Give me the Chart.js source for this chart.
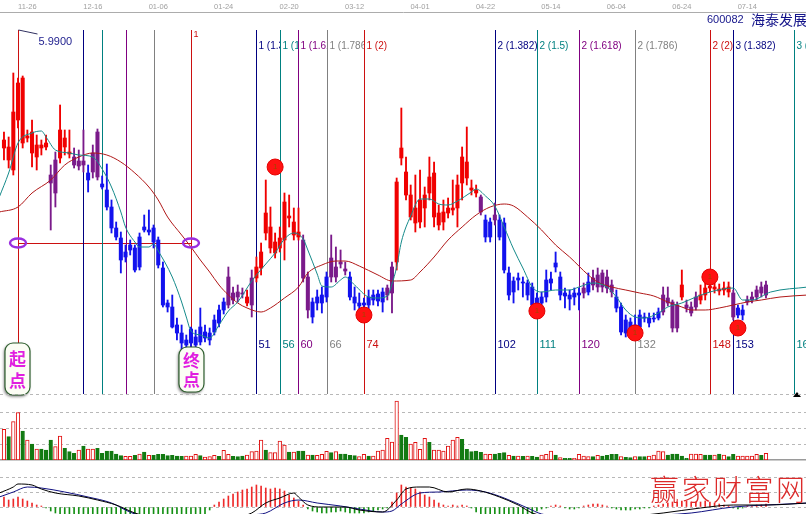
<!DOCTYPE html>
<html>
<head>
<meta charset="utf-8">
<script src="https://cdn.jsdelivr.net/npm/chart.js@4.4.1/dist/chart.umd.min.js"></script>
<style>
  html, body { margin: 0; padding: 0; background: #ffffff; }
  #wrap { position: relative; width: 806px; height: 514px; overflow: hidden; background: #ffffff; }
  #wrap canvas { position: absolute; left: 0; }
</style>
</head>
<body>
<div id="wrap">
  <canvas id="price" width="806" height="400" style="top:0px"></canvas>
  <canvas id="vol" width="806" height="69" style="top:393px"></canvas>
  <canvas id="macd" width="806" height="44" style="top:470px"></canvas>
</div>
<script>
// ---- daily bars, index 0 = cycle start bar ----
const firstBar = -3;
const opens = [
  5.24,5.12,5.02,5.52,5.29,5.34,5.19,5.15,5.24,5.25,
  4.97,4.79,5.14,5.25,5.18,5.15,5.11,5.11,4.99,5.00,
  4.95,4.88,4.82,4.65,4.44,4.34,4.20,4.27,4.24,4.35,
  4.45,4.42,4.44,4.32,4.04,3.69,3.65,3.47,3.39,3.32,
  3.43,3.35,3.45,3.40,3.39,3.52,3.62,3.70,3.67,3.79,
  3.80,3.79,3.69,3.67,3.94,4.04,4.39,4.24,4.19,4.24,
  4.32,4.54,4.37,4.35,4.32,3.95,3.70,3.75,3.77,3.95,
  3.95,4.05,4.10,4.03,3.95,3.75,3.69,3.69,3.75,3.77,
  3.78,3.80,3.84,3.79,4.10,5.14,4.77,4.55,4.49,4.50,
  4.64,4.79,4.55,4.47,4.50,4.59,4.62,4.64,4.89,4.94,
  4.82,4.79,4.75,4.52,4.50,4.57,4.52,4.49,3.99,3.91,
  3.94,3.90,3.89,3.85,3.74,3.75,3.92,3.93,4.09,3.95,
  3.79,3.77,3.79,3.79,3.84,3.90,3.94,3.97,3.99,3.95,
  3.87,3.75,3.65,3.52,3.50,3.47,3.57,3.55,3.54,3.54,
  3.60,3.60,3.74,3.70,3.67,3.75,3.67,3.65,3.65,3.72,
  3.77,3.84,3.83,3.81,3.82,3.80,3.79,3.64,3.62,3.72,
  3.72,3.75,3.79,3.77
];
const highs = [
  5.40,5.35,5.99,5.94,5.96,5.42,5.52,5.37,5.32,5.37,
  5.07,5.20,5.67,5.42,5.42,5.24,5.22,5.42,5.07,5.27,
  5.43,4.96,5.08,4.72,4.50,4.40,4.27,4.32,4.27,4.39,
  4.57,4.62,4.47,4.35,4.10,3.72,3.77,3.54,3.47,3.37,
  3.45,3.42,3.64,3.47,3.44,3.57,3.67,3.74,4.05,3.85,
  3.87,3.84,3.82,4.02,4.15,4.29,4.92,4.65,4.39,4.45,
  4.79,4.77,4.64,4.64,4.37,4.00,3.74,3.82,3.85,4.00,
  4.37,4.25,4.22,4.10,4.00,3.85,3.79,3.74,3.82,3.82,
  3.82,3.84,3.87,4.10,4.94,5.64,5.15,4.87,4.97,5.02,
  4.85,5.15,5.10,4.67,4.72,4.74,4.92,4.97,5.25,5.45,
  4.92,4.87,4.77,4.57,4.54,4.69,4.57,4.54,4.05,3.95,
  3.99,3.95,3.92,3.89,3.79,3.80,4.02,4.00,4.20,4.00,
  3.84,3.82,3.84,3.84,3.89,3.99,4.02,4.04,4.02,4.02,
  3.92,3.82,3.69,3.57,3.54,3.57,3.62,3.59,3.59,3.59,
  3.64,3.85,3.85,3.72,3.70,4.02,3.72,3.70,3.80,3.87,
  3.94,3.92,3.89,3.88,3.90,3.90,3.82,3.67,3.67,3.76,
  3.80,3.86,3.90,3.91
];
const lows = [
  5.12,5.04,4.97,5.44,5.24,5.30,5.05,5.02,5.17,5.22,
  4.42,4.65,5.09,5.17,5.14,5.04,5.02,5.00,4.80,4.94,
  4.92,4.83,4.62,4.39,4.32,3.99,4.10,4.17,4.00,4.02,
  4.40,4.37,4.24,4.04,3.65,3.60,3.44,3.32,3.22,3.24,
  3.25,3.22,3.27,3.30,3.27,3.37,3.45,3.58,3.64,3.68,
  3.70,3.74,3.66,3.55,3.90,3.97,4.32,4.19,4.14,4.20,
  4.12,4.45,4.32,4.32,3.90,3.54,3.49,3.62,3.59,3.70,
  3.90,3.90,4.04,3.97,3.72,3.62,3.62,3.60,3.62,3.67,
  3.66,3.60,3.72,3.59,4.02,5.07,4.72,4.52,4.40,4.44,
  4.45,4.72,4.45,4.42,4.42,4.54,4.57,4.45,4.72,4.87,
  4.77,4.75,4.57,4.30,4.30,4.47,4.32,3.99,3.72,3.69,
  3.82,3.75,3.72,3.62,3.60,3.62,3.70,3.82,4.00,3.72,
  3.64,3.62,3.67,3.62,3.74,3.77,3.82,3.80,3.80,3.79,
  3.75,3.60,3.37,3.35,3.34,3.35,3.42,3.50,3.45,3.50,
  3.52,3.57,3.66,3.40,3.40,3.72,3.60,3.56,3.62,3.68,
  3.72,3.80,3.79,3.77,3.77,3.75,3.52,3.54,3.52,3.67,
  3.69,3.72,3.75,3.74
];
const closes = [
  5.32,5.25,5.60,5.89,5.94,5.36,5.40,5.27,5.27,5.29,
  4.89,5.12,5.42,5.34,5.20,5.07,5.06,5.07,4.92,5.19,
  5.40,4.85,4.65,4.44,4.35,4.12,4.15,4.22,4.02,4.05,
  4.42,4.40,4.30,4.07,3.67,3.65,3.45,3.39,3.29,3.27,
  3.29,3.27,3.30,3.34,3.32,3.40,3.49,3.62,3.95,3.72,
  3.75,3.78,3.75,3.94,4.05,4.20,4.59,4.45,4.30,4.34,
  4.70,4.56,4.50,4.40,3.94,3.62,3.55,3.69,3.69,3.75,
  4.14,3.95,4.08,4.01,3.75,3.69,3.66,3.67,3.67,3.72,
  3.71,3.70,3.77,4.05,4.90,5.24,5.00,4.77,4.64,4.72,
  4.77,4.95,4.99,4.59,4.60,4.64,4.64,4.87,5.15,5.10,
  4.84,4.82,4.60,4.35,4.35,4.52,4.35,4.02,3.77,3.80,
  3.92,3.89,3.77,3.67,3.65,3.69,3.75,3.89,4.05,3.77,
  3.76,3.73,3.75,3.77,3.79,3.80,3.87,3.85,3.85,3.84,
  3.80,3.64,3.40,3.39,3.37,3.39,3.45,3.54,3.49,3.53,
  3.54,3.77,3.69,3.44,3.44,3.87,3.64,3.59,3.75,3.77,
  3.84,3.86,3.85,3.83,3.84,3.85,3.55,3.57,3.57,3.70,
  3.75,3.82,3.85,3.87
];
// trend state per bar: r = rising, b = falling, p = transition
const trend =
  'rrrrrrrrrr' + 'pprrrpppbppb' + 'bbbbbbbbbbbbbbbbbbbbbbbbbb' + 'pppprp' +
  'rrrrrrrrrr' + 'pp' + 'bbbb' + 'pppp' + 'bbbbbbbb' + 'pp' +
  'rrrrrrrrrrrrrrrrrr' + 'p' + 'bb' + 'p' + 'bbbbbbbbbbbbbbbbbb' + 'p' + 'b' +
  'ppppp' + 'bbbbbbbbbb' + 'pppp' + 'r' + 'ppp' + 'rrrrrrr' + 'p' + 'bb' + 'ppppp';

// volume (10k shares) and up/down day flag
const volumes = [
  307,233,383,473,290,200,160,110,110,100,
  200,133,240,117,83,67,100,140,110,110,
  117,67,90,90,60,43,37,37,47,60,
  80,47,47,57,57,43,47,40,37,40,
  40,57,43,30,33,47,37,97,57,37,
  33,40,50,83,90,200,100,73,73,190,
  150,80,80,90,90,50,50,47,57,87,
  73,83,60,60,47,43,33,57,40,40,
  90,100,217,180,590,250,227,160,177,107,
  217,177,100,100,90,140,200,227,207,107,
  83,90,77,60,57,60,67,73,47,40,
  40,37,40,37,30,50,57,90,50,23,
  17,17,17,57,40,33,33,47,40,47,
  57,57,33,27,23,33,33,33,40,50,
  90,83,50,60,60,40,17,60,60,57,
  50,50,50,60,50,33,57,40,40,40,
  40,57,47,67
];
const volumeDir =
  'uduudududd' + 'duudddudu' + 'u' + 'ddddddu' + 'udu' + 'dudddddddu' +
  'uuduuuduud' + 'dduuuuduuu' + 'udud' + 'duduuu' + 'duddddu' + 'udu' +
  'uuuuudduuu' + 'uduuuuuudd' + 'dddu' + 'uddd' + 'ud' + 'udud' + 'duuudu' +
  'dduuuudud' + 'd' + 'ddudduddu' + 'u' + 'uudddddu' + 'uu' + 'ddududduuu' + 'uudu';

// MACD histogram, DIF and DEA
const macdHist = [
  0.10,0.07,0.08,0.10,0.08,0.06,0.04,0.02,0.01,-0.01,
  -0.04,-0.06,-0.07,-0.09,-0.10,-0.11,-0.12,-0.12,-0.13,-0.13,
  -0.14,-0.14,-0.15,-0.16,-0.17,-0.18,-0.18,-0.19,-0.19,-0.18,
  -0.17,-0.16,-0.16,-0.15,-0.16,-0.17,-0.17,-0.16,-0.15,-0.14,
  -0.13,-0.12,-0.10,-0.07,-0.03,
  0.02,0.05,0.08,0.11,0.13,0.15,0.17,0.18,0.20,0.22,
  0.21,0.19,0.18,0.19,0.18,0.16,0.12,0.09,0.06,0.02,
  -0.02,-0.04,-0.05,-0.06,-0.06,-0.05,-0.05,-0.04,-0.05,-0.06,
  -0.06,-0.06,-0.06,-0.05,-0.04,-0.03,-0.02,-0.01,
  0.05,0.14,0.22,0.20,0.19,0.18,0.15,0.12,0.10,0.07,
  0.04,0.02,0.01,0.02,0.01,0.02,0.01,-0.01,
  -0.05,-0.08,-0.10,-0.11,-0.12,-0.12,-0.13,-0.13,-0.12,-0.12,
  -0.11,-0.10,-0.07,-0.04,
  -0.02,-0.01,0.01,0.02,0.01,-0.01,-0.02,-0.02,-0.01,0.01,
  0.02,0.03,0.03,0.02,0.01,-0.01,-0.02,-0.03,-0.03,-0.03,
  -0.02,-0.02,-0.01,-0.01,
  0.01,0.02,0.03,0.04,0.05,0.05,0.06,0.06,0.05,0.05,
  0.05,0.06,0.05,0.04,0.03,0.02,0.01,-0.01,-0.02,-0.01,
  0.01,0.01,0.02,0.02,0.03
];
const difBars = [-4,-1,0,3,5,8,13,17,21,25,30,36,42,47,50,53,56,59,60,62,65,70,73,78,81,83,86,88,92,96,99,103,107,110,115,122,130,138,146,153,160,169];
const difVals = [0.14,0.20,0.23,0.22,0.18,0.14,0.11,0.07,0.02,-0.06,-0.12,-0.15,-0.14,-0.10,-0.06,0.04,0.09,0.14,0.10,0.02,0.00,0.00,-0.03,-0.05,0.07,0.18,0.20,0.20,0.15,0.18,0.16,0.10,0.02,-0.06,-0.11,-0.13,-0.10,-0.06,-0.01,0.02,0.02,0.04];
const deaBars = [-4,-1,2,5,10,15,20,23,25,30,38,45,50,53,57,60,64,69,73,78,80,82,86,90,96,100,104,109,112,120,130,138,144,153,160,169];
const deaVals = [0.10,0.15,0.20,0.19,0.15,0.10,0.04,-0.03,-0.07,-0.11,-0.14,-0.12,-0.08,-0.06,0.04,0.07,0.04,0.01,-0.02,-0.05,-0.04,0.03,0.14,0.15,0.17,0.15,0.09,-0.01,-0.07,-0.11,-0.10,-0.08,-0.06,0.00,0.02,0.04];

// moving averages
const maShortBars = [-4,-2,0,3,5,6,8,11,13,16,18,20,22,23,25,26,28,29,30,33,35,36,37,39,41,43,45,47,50,53,55,57,59,61,62,64,65,67,69,70,72,75,77,79,80,81,82,84,86,88,90,92,94,97,98,100,102,104,106,108,110,112,115,118,120,123,126,128,130,132,134,137,139,142,145,148,153,155,157,161,169];
const maShortVals = [4.75,4.99,5.29,5.39,5.41,5.35,5.22,5.19,5.17,5.15,5.03,4.85,4.60,4.45,4.30,4.25,4.25,4.28,4.21,3.95,3.70,3.55,3.41,3.37,3.34,3.47,3.61,3.70,3.91,4.08,4.19,4.33,4.39,4.33,4.22,3.98,3.86,3.85,3.92,3.95,3.87,3.75,3.74,3.76,3.88,4.05,4.30,4.56,4.73,4.73,4.68,4.67,4.71,4.80,4.83,4.76,4.66,4.45,4.23,4.04,3.85,3.80,3.82,3.82,3.85,3.89,3.85,3.75,3.62,3.55,3.54,3.59,3.65,3.69,3.75,3.80,3.84,3.72,3.72,3.80,3.85];
const maLongBars = [-4,0,3,7,10,13,16,19,22,25,28,30,32,35,37,39,41,43,45,47,49,52,54,57,60,62,65,68,70,73,77,80,84,86,89,92,95,98,101,104,106,109,112,115,118,122,124,127,130,133,136,139,142,144,147,150,153,156,159,163,169];
const maLongVals = [4.60,4.65,4.79,4.92,5.07,5.15,5.19,5.17,5.10,4.99,4.85,4.72,4.55,4.37,4.25,4.12,4.00,3.87,3.77,3.69,3.64,3.60,3.64,3.74,3.85,3.99,4.07,4.11,4.11,4.06,3.97,3.91,3.92,4.00,4.15,4.32,4.45,4.57,4.65,4.68,4.66,4.55,4.42,4.27,4.15,3.97,3.90,3.85,3.82,3.79,3.76,3.70,3.65,3.62,3.62,3.64,3.67,3.70,3.72,3.75,3.77];

// date axis
const dateBars = [2,16,30,44,58,72,86,100,114,128,142,156];
const dateLabels = ['11-26','12-16','01-06','01-24','02-20','03-12','04-01','04-22','05-14','06-04','06-24','07-14'];

// golden-ratio time cycle
const startBar = 0;
const endBar = 37;
const startLevel = 4.29;
const fibBars = [14,18,23,29,37,51,56,60,66,74,102,111,120,132,148,153,166];
const fibTopLabels = ['','','','','1','1 (1.382)','1 (1.5)','1 (1.618)','1 (1.786)','1 (2)','2 (1.382)','2 (1.5)','2 (1.618)','2 (1.786)','2 (2)','3 (1.382)','3 (1.5)'];
const signalBars = [55,74,111,132,148,154];
const signalPrices = [5.05,3.57,3.61,3.39,3.95,3.44];

const stockCode = '600082';
const stockName = '海泰发展';

// ---- drawing ----
const X_MIN = -3.85, X_MAX = 168.56;
const RED = '#cc1010';
const fibColors = ['#000080', '#008080', '#800080', '#808080', RED];
const candleColor = { r: '#f00000', b: '#1212ee', p: '#7a1a8a' };
const barIdx = opens.map((_, k) => firstBar + k);
const pairs = (xs, ys) => xs.map((x, k) => ({ x, y: ys[k] }));

const LINE_TOP = 30, LINE_BOTTOM = 394;
const START_BOX = { top: 343, bottom: 395 };
const END_BOX = { top: 347, bottom: 392 };

function badge(ctx, cx, top, bottom, chars) {
  const w = 25, l = cx - w / 2;
  ctx.save();
  ctx.shadowColor = 'rgba(0,0,0,0.55)';
  ctx.shadowBlur = 3; ctx.shadowOffsetX = -1; ctx.shadowOffsetY = 1.5;
  ctx.beginPath();
  ctx.roundRect(l, top, w, bottom - top, 8);
  ctx.fillStyle = '#fbfdf4';
  ctx.fill();
  ctx.shadowColor = 'transparent';
  ctx.lineWidth = 1.2;
  ctx.strokeStyle = '#2f5f2f';
  ctx.stroke();
  ctx.fillStyle = '#e01ee0';
  ctx.font = 'bold 17px "Noto Sans CJK SC"';
  ctx.textAlign = 'center';
  ctx.textBaseline = 'middle';
  ctx.fillText(chars[0], cx, top + (bottom - top) * 0.29);
  ctx.fillText(chars[1], cx, top + (bottom - top) * 0.73);
  ctx.restore();
}

const cycleDecor = {
  id: 'cycleDecor',
  beforeDatasetsDraw(chart) {
    const { ctx, scales: { x, y } } = chart;
    const px = v => Math.round(x.getPixelForValue(v)) + 0.5;
    ctx.save();
    ctx.lineWidth = 1;
    const vline = (xx, y0, y1, col) => {
      ctx.strokeStyle = col;
      ctx.beginPath(); ctx.moveTo(xx, y0); ctx.lineTo(xx, y1); ctx.stroke();
    };
    const yl = Math.round(y.getPixelForValue(startLevel)) + 0.5;
    ctx.strokeStyle = RED;
    ctx.beginPath(); ctx.moveTo(px(startBar), yl); ctx.lineTo(px(endBar), yl); ctx.stroke();
    vline(px(startBar), LINE_TOP, START_BOX.top, RED);
    fibBars.forEach((b, k) => {
      vline(px(b), LINE_TOP, b === endBar ? END_BOX.top : LINE_BOTTOM, fibColors[k % 5]);
    });
    ctx.restore();
  },
  afterDatasetsDraw(chart) {
    const { ctx, scales: { x, y } } = chart;
    const px = v => Math.round(x.getPixelForValue(v)) + 0.5;
    ctx.save();
    // level markers
    const yl = y.getPixelForValue(startLevel);
    ctx.strokeStyle = '#9a2ee0';
    ctx.lineWidth = 2.4;
    [startBar, endBar].forEach(b => {
      ctx.beginPath();
      ctx.ellipse(x.getPixelForValue(b), yl, 8, 4.5, 0, 0, Math.PI * 2);
      ctx.stroke();
    });
    // cycle labels
    ctx.textBaseline = 'middle';
    ctx.textAlign = 'left';
    fibBars.forEach((b, k) => {
      const x0 = px(b);
      const x1 = k + 1 < fibBars.length ? px(fibBars[k + 1]) - 0.5 : chart.width;
      ctx.fillStyle = fibColors[k % 5];
      ctx.save();
      ctx.beginPath(); ctx.rect(x0 + 0.5, 0, x1 - x0 - 0.5, chart.height); ctx.clip();
      if (fibTopLabels[k]) {
        ctx.font = (k < 5 ? '9px' : '10px') + ' "Liberation Sans"';
        ctx.fillText(fibTopLabels[k], x0 + 2, k < 5 ? 35 : 46);
      }
      if (k >= 5) {
        ctx.font = '11px "Liberation Sans"';
        ctx.fillText(String(b), x0 + 2, 345);
      }
      ctx.restore();
    });
    // signal numbers
    ctx.fillStyle = '#a04800';
    ctx.font = '8px "Liberation Sans"';
    ctx.textAlign = 'center';
    signalBars.forEach((b, k) => {
      ctx.fillText('1', x.getPixelForValue(b), y.getPixelForValue(signalPrices[k]));
    });
    // high price tag at cycle start
    const xs = px(startBar);
    ctx.strokeStyle = '#303060';
    ctx.lineWidth = 1;
    ctx.beginPath(); ctx.moveTo(xs, LINE_TOP); ctx.lineTo(xs + 19, LINE_TOP + 4); ctx.stroke();
    ctx.fillStyle = '#1c1c8c';
    ctx.font = '11px "Liberation Sans"';
    ctx.textAlign = 'left';
    ctx.fillText(Math.max(...highs).toFixed(4), xs + 20, 42);
    // start / end badges
    badge(ctx, x.getPixelForValue(startBar) - 0.5, START_BOX.top, START_BOX.bottom, '起点');
    badge(ctx, x.getPixelForValue(endBar) + 0.5, END_BOX.top, END_BOX.bottom, '终点');
    // security name
    ctx.fillStyle = '#14148a';
    ctx.font = '11px "Liberation Sans"';
    ctx.fillText(stockCode, 707, 20);
    ctx.font = '14px "Noto Sans CJK SC"';
    ctx.fillText(stockName, 751, 20);
    // scroll marker
    ctx.fillStyle = '#000000';
    ctx.beginPath(); ctx.moveTo(797, 392); ctx.lineTo(801, 397); ctx.lineTo(793, 397); ctx.closePath(); ctx.fill();
    ctx.restore();
  }
};

const common = {
  responsive: false,
  animation: false,
  devicePixelRatio: 1,
  events: [],
  plugins: { legend: { display: false }, tooltip: { enabled: false } }
};

new Chart(document.getElementById('price'), {
  type: 'bar',
  data: {
    datasets: [
      {
        type: 'bar', order: 4, grouped: false, barThickness: 1.2,
        data: barIdx.map((b, k) => ({ x: b, y: [lows[k], highs[k]] })),
        backgroundColor: c => candleColor[trend[c.dataIndex]], borderWidth: 0
      },
      {
        type: 'bar', order: 3, grouped: false, barThickness: 3.4, minBarLength: 1,
        data: barIdx.map((b, k) => ({ x: b, y: [opens[k], closes[k]] })),
        backgroundColor: c => candleColor[trend[c.dataIndex]], borderWidth: 0
      },
      {
        type: 'line', order: 2, data: pairs(maLongBars, maLongVals),
        borderColor: '#b01818', borderWidth: 1, pointRadius: 0, cubicInterpolationMode: 'monotone'
      },
      {
        type: 'line', order: 1, data: pairs(maShortBars, maShortVals),
        borderColor: '#158a8a', borderWidth: 1, pointRadius: 0, cubicInterpolationMode: 'monotone'
      },
      {
        type: 'line', order: 0, showLine: false, data: pairs(signalBars, signalPrices),
        pointRadius: 8, pointBackgroundColor: '#ff1212', pointBorderColor: '#e40000', pointBorderWidth: 1
      }
    ]
  },
  options: {
    ...common,
    layout: { autoPadding: false, padding: { left: 0, right: 0, top: 0, bottom: 5 } },
    scales: {
      x: {
        type: 'linear', position: 'top', min: X_MIN, max: X_MAX, offset: false,
        grid: { display: false, drawTicks: false },
        border: { display: true, color: '#acacac', width: 1 },
        ticks: {
          autoSkip: false, maxRotation: 0, minRotation: 0, padding: 1,
          color: '#a0a0a0', font: { family: 'Liberation Sans', size: 7.5 },
          callback: v => { const i = dateBars.indexOf(v); return i >= 0 ? dateLabels[i] : ''; }
        },
        afterBuildTicks: s => { s.ticks = dateBars.map(v => ({ value: v })); },
        afterFit: s => { s.height = 12; s.paddingLeft = 0; s.paddingRight = 0; }
      },
      y: { display: false, min: 2.77, max: 6.60 }
    }
  },
  plugins: [cycleDecor]
});

const volGrid = [160, 320, 480, 660];
new Chart(document.getElementById('vol'), {
  type: 'bar',
  data: {
    datasets: [{
      grouped: false, barThickness: 3.6, borderSkipped: false, borderWidth: 1,
      data: pairs(barIdx, volumes),
      backgroundColor: c => volumeDir[c.dataIndex] === 'u' ? '#ffffff' : '#127a12',
      borderColor: c => volumeDir[c.dataIndex] === 'u' ? '#e01010' : '#127a12'
    }]
  },
  options: {
    ...common,
    layout: { autoPadding: false, padding: { left: 0, right: 0, top: 0, bottom: 2 } },
    scales: {
      x: {
        type: 'linear', min: X_MIN, max: X_MAX, offset: false,
        grid: { display: false }, ticks: { display: false },
        border: { display: true, color: '#9a9a9a', width: 1.5 },
        afterFit: s => { s.height = 0; s.paddingLeft = 0; s.paddingRight = 0; }
      },
      y: {
        min: 0, max: 670, ticks: { display: false },
        grid: { color: '#b8b8b8', drawTicks: false },
        border: { display: false, dash: [3, 3] },
        afterBuildTicks: s => { s.ticks = volGrid.map(v => ({ value: v })); },
        afterFit: s => { s.width = 0; }
      }
    }
  }
});

const macdGrid = [0, 0.15, 0.30];
const watermark = {
  id: 'watermark',
  afterDraw(chart) {
    const ctx = chart.ctx;
    ctx.save();
    ctx.fillStyle = '#dc2a2a';
    ctx.font = '300 29px "Noto Sans CJK SC"';
    ctx.textBaseline = 'middle';
    ctx.textAlign = 'left';
    [...'赢家财富网'].forEach((ch, k) => ctx.fillText(ch, 650 + k * 31.5, 20));
    ctx.restore();
  }
};
new Chart(document.getElementById('macd'), {
  type: 'bar',
  data: {
    datasets: [
      {
        type: 'bar', order: 2, grouped: false, barThickness: 1,
        data: pairs(barIdx, macdHist),
        backgroundColor: c => macdHist[c.dataIndex] >= 0 ? '#ee2a2a' : '#149014', borderWidth: 0
      },
      {
        type: 'line', order: 1, data: pairs(deaBars, deaVals),
        borderColor: '#101080', borderWidth: 1, pointRadius: 0, cubicInterpolationMode: 'monotone'
      },
      {
        type: 'line', order: 0, data: pairs(difBars, difVals),
        borderColor: '#000000', borderWidth: 1, pointRadius: 0, cubicInterpolationMode: 'monotone'
      }
    ]
  },
  options: {
    ...common,
    layout: { autoPadding: false, padding: { left: 0, right: 0, top: 7, bottom: 0 } },
    scales: {
      x: { type: 'linear', display: false, min: X_MIN, max: X_MAX, offset: false },
      y: {
        min: -0.07, max: 0.30, ticks: { display: false },
        grid: { color: '#b8b8b8', drawTicks: false },
        border: { display: false, dash: [3, 3] },
        afterBuildTicks: s => { s.ticks = macdGrid.map(v => ({ value: v })); },
        afterFit: s => { s.width = 0; }
      }
    }
  },
  plugins: [watermark]
});
</script>
</body>
</html>
